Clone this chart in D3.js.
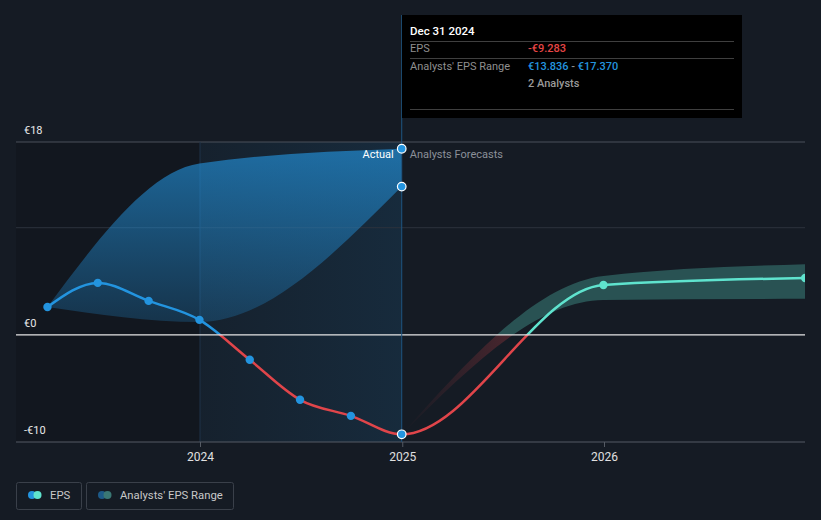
<!DOCTYPE html>
<html><head><meta charset="utf-8">
<script src="https://cdn.jsdelivr.net/npm/d3@7"></script>
<style>
html,body{margin:0;padding:0;background:#151b24;}
svg{display:block;font-family:Roboto,"Noto Sans",sans-serif;}
</style></head>
<body><svg id="c" width="821" height="520"></svg>
<script>
// ---- data ----
const epsDates = ["2023-03-31","2023-06-30","2023-09-30","2023-12-31","2024-03-31","2024-06-30","2024-09-30","2024-12-31"];
const epsValues = [2.6, 4.85, 3.17, 1.4, -2.33, -6.06, -7.56, -9.283];
const pastRangeDates = ["2023-03-31","2023-12-31","2024-12-31"];
const pastRangeLow = [2.6, 1.2, 13.836];
const pastRangeHigh = [2.6, 16.0, 17.37];
const fcDates = ["2024-12-31","2025-12-31","2026-12-31"];
const fcValues = [-9.283, 4.66, 5.3];
const fcLow = [-9.283, 3.26, 3.36];
const fcHigh = [-9.283, 5.5, 6.6];
const yTicks = [18, 0, -10];
const yTickLabels = ["€18", "€0", "-€10"];
const gridValues = [18, 10];
const xTickYears = ["2024", "2025", "2026"];

const P = d3.timeParse("%Y-%m-%d");
const svg = d3.select("#c");
const L = 16, R = 805, T = 142, B = 442;
const x = d3.scaleTime().domain([P("2024-01-01"), P("2026-01-01")]).range([200, 604]);
const y = d3.scaleLinear().domain([-10, 18]).range([B, T]);
const xNow = x(P("2024-12-31"));

const defs = svg.append("defs");
defs.append("clipPath").attr("id","plot").append("rect").attr("x",L).attr("y",0).attr("width",R-L).attr("height",B);
defs.append("clipPath").attr("id","above").append("rect").attr("x",L).attr("y",0).attr("width",R-L).attr("height",y(0));
defs.append("clipPath").attr("id","below").append("rect").attr("x",L).attr("y",y(0)).attr("width",R-L).attr("height",B-y(0)+10);
defs.append("clipPath").attr("id","pastAbove").append("rect").attr("x",L).attr("y",0).attr("width",xNow-L).attr("height",y(0));
defs.append("clipPath").attr("id","futAbove").append("rect").attr("x",xNow).attr("y",0).attr("width",R-xNow).attr("height",y(0));
const gBand = defs.append("linearGradient").attr("id","gBand").attr("gradientUnits","userSpaceOnUse")
  .attr("x1",0).attr("x2",0).attr("y1",T).attr("y2",y(0));
gBand.append("stop").attr("offset","0").attr("stop-color","#2394df").attr("stop-opacity",0.66);
gBand.append("stop").attr("offset","1").attr("stop-color","#2394df").attr("stop-opacity",0.2);
const gHi = defs.append("linearGradient").attr("id","gHi").attr("gradientUnits","userSpaceOnUse")
  .attr("x1",x(P("2024-01-01"))).attr("x2",xNow).attr("y1",0).attr("y2",0);
gHi.append("stop").attr("offset","0").attr("stop-color","#2394df").attr("stop-opacity",0.05);
gHi.append("stop").attr("offset","1").attr("stop-color","#2394df").attr("stop-opacity",0.13);
const gRed = defs.append("linearGradient").attr("id","gRed").attr("gradientUnits","userSpaceOnUse")
  .attr("x1",xNow).attr("x2",x(P("2025-08-20"))).attr("y1",0).attr("y2",0);
gRed.append("stop").attr("offset","0").attr("stop-color","#e0454a").attr("stop-opacity",0);
gRed.append("stop").attr("offset","1").attr("stop-color","#e0454a").attr("stop-opacity",0.3);

// past region shading
svg.append("rect").attr("x",L).attr("y",T).attr("width",x(P("2024-01-01"))-L).attr("height",B-T)
  .attr("fill","#000").attr("opacity",0.12);
svg.append("rect").attr("x",x(P("2024-01-01"))).attr("y",T).attr("width",xNow-x(P("2024-01-01"))).attr("height",B-T)
  .attr("fill","url(#gHi)");

// grid
svg.selectAll("line.grid").data(gridValues).join("line").attr("class","grid")
  .attr("x1",L).attr("x2",R).attr("y1",d=>y(d)).attr("y2",d=>y(d))
  .attr("stroke",(d,i)=>i===0?"#4a505a":"#2c333d").attr("stroke-width",1);
svg.append("line").attr("x1",x(P("2024-01-01"))).attr("x2",x(P("2024-01-01"))).attr("y1",T).attr("y2",B).attr("stroke","#1f3348").attr("stroke-width",1);

const plot = svg.append("g").attr("clip-path","url(#plot)");

// past analyst band
const pr = pastRangeDates.map((d,i)=>({d:P(d),lo:pastRangeLow[i],hi:pastRangeHigh[i]}));
plot.append("path").datum(pr).attr("fill","url(#gBand)")
  .attr("d", d3.area().curve(d3.curveMonotoneX).x(d=>x(d.d)).y0(d=>y(d.lo)).y1(d=>y(d.hi)));

// forecast band
const fr = fcDates.map((d,i)=>({d:P(d),lo:fcLow[i],hi:fcHigh[i],v:fcValues[i]}));
const fArea = d3.area().curve(d3.curveMonotoneX).x(d=>x(d.d)).y0(d=>y(d.lo)).y1(d=>y(d.hi));
plot.append("path").datum(fr).attr("fill","#5fe3ce").attr("fill-opacity",0.28).attr("clip-path","url(#above)").attr("d",fArea);
plot.append("g").attr("clip-path","url(#below)").append("path").datum(fr).attr("fill","url(#gRed)").attr("d",fArea);

// zero line & axis
svg.append("line").attr("x1",L).attr("x2",R).attr("y1",y(0)).attr("y2",y(0)).attr("stroke","#e6e6e6").attr("stroke-width",1.2);
svg.append("line").attr("x1",L).attr("x2",R).attr("y1",B).attr("y2",B).attr("stroke","#555b64").attr("stroke-width",1);

// tooltip connector
svg.append("line").attr("x1",xNow).attr("x2",xNow).attr("y1",15).attr("y2",B)
  .attr("stroke","#1e5580").attr("stroke-width",1);

// EPS line: one continuous curve through actual + forecast values
const ep = epsDates.map((d,i)=>({d:P(d),v:epsValues[i]}));
const all = ep.concat(fr.slice(1).map(d=>({d:d.d,v:d.v})));
const lineA = d3.line().curve(d3.curveMonotoneX).x(d=>x(d.d)).y(d=>y(d.v));
const lineD = lineA(all);
plot.append("g").attr("clip-path","url(#pastAbove)").append("path").attr("fill","none").attr("stroke","#2394df").attr("stroke-width",2.5).attr("d",lineD);
plot.append("g").attr("clip-path","url(#futAbove)").append("path").attr("fill","none").attr("stroke","#5fe3ce").attr("stroke-width",2.5).attr("d",lineD);
plot.append("g").attr("clip-path","url(#below)").append("path").attr("fill","none").attr("stroke","#e0454a").attr("stroke-width",2.5).attr("d",lineD);

// points
plot.selectAll("circle.eps").data(ep.slice(0,-1)).join("circle").attr("class","eps")
  .attr("cx",d=>x(d.d)).attr("cy",d=>y(d.v)).attr("r",4.2).attr("fill","#2394df");
plot.selectAll("circle.fc").data(fr.slice(1)).join("circle").attr("class","fc")
  .attr("cx",d=>x(d.d)).attr("cy",d=>y(d.v)).attr("r",4.2).attr("fill","#5fe3ce");
const last = pr[pr.length-1];
[{v:ep[ep.length-1].v},{v:last.hi},{v:last.lo}].forEach(p=>{
  svg.append("circle").attr("cx",x(last.d)).attr("cy",y(p.v)).attr("r",4.3).attr("fill","#2394df").attr("stroke","#fff").attr("stroke-width",1.2);
});

// Actual / forecasts labels
svg.append("text").attr("x",xNow-8).attr("y",158).attr("text-anchor","end").attr("fill","#ffffff").attr("font-size",11).text("Actual");
svg.append("text").attr("x",xNow+8).attr("y",158).attr("fill","#8b9099").attr("font-size",11).text("Analysts Forecasts");

// y labels
svg.selectAll("text.yl").data(yTicks).join("text").attr("class","yl")
  .attr("x",24).attr("y",d=>y(d)-8).attr("fill","#e8e8e8").attr("font-size",11).text((d,i)=>yTickLabels[i]);

// x axis
const xa = svg.append("g").attr("transform",`translate(0,${B})`)
  .call(d3.axisBottom(x).tickValues(xTickYears.map(s=>P(s+"-01-01"))).tickFormat(d3.timeFormat("%Y")).tickSize(5).tickPadding(5));
xa.select(".domain").remove();
xa.selectAll("line").attr("stroke","#555b64");
xa.selectAll("text").attr("fill","#e0e0e0").attr("font-size",12).attr("font-family","Roboto,sans-serif");

// tooltip
const tt = svg.append("g");
tt.append("rect").attr("x",402).attr("y",15).attr("width",340).attr("height",103).attr("fill","#000");
tt.append("text").attr("x",410).attr("y",35).attr("fill","#fff").attr("font-size",11.5).attr("font-weight",500).text("Dec 31 2024");
[41,58,109].forEach(yy=>tt.append("line").attr("x1",410).attr("x2",734).attr("y1",yy+0.5).attr("y2",yy+0.5).attr("stroke","#3f3f3f"));
tt.append("text").attr("x",410).attr("y",52).attr("fill","#8f8f8f").attr("font-size",11).text("EPS");
tt.append("text").attr("x",528).attr("y",52).attr("fill","#e64545").attr("font-size",11).attr("font-weight",500).text("-€9.283");
tt.append("text").attr("x",410).attr("y",70).attr("fill","#8f8f8f").attr("font-size",11).text("Analysts' EPS Range");
const rt = tt.append("text").attr("x",528).attr("y",70).attr("font-size",11).attr("font-weight",500);
rt.append("tspan").attr("fill","#2394df").text("€13.836");
rt.append("tspan").attr("fill","#8f8f8f").text(" - ");
rt.append("tspan").attr("fill","#2394df").text("€17.370");
tt.append("text").attr("x",528).attr("y",87).attr("fill","#9a9a9a").attr("font-size",11).attr("font-weight",500).text("2 Analysts");

// legend
const lg = svg.append("g");
lg.append("rect").attr("x",16.5).attr("y",482.5).attr("width",65).attr("height",27).attr("rx",2).attr("fill","none").attr("stroke","#3a404a");
lg.append("circle").attr("cx",32).attr("cy",495).attr("r",4).attr("fill","#2394df");
lg.append("circle").attr("cx",37.5).attr("cy",495).attr("r",4).attr("fill","#5fe3ce");
lg.append("text").attr("x",50).attr("y",499).attr("fill","#c8c8c8").attr("font-size",11.3).text("EPS");
lg.append("rect").attr("x",86.5).attr("y",482.5).attr("width",147).attr("height",27).attr("rx",2).attr("fill","none").attr("stroke","#3a404a");
lg.append("circle").attr("cx",102).attr("cy",495).attr("r",4).attr("fill","#1d5a88");
lg.append("circle").attr("cx",107.5).attr("cy",495).attr("r",4).attr("fill","#3a7774");
lg.append("text").attr("x",120).attr("y",499).attr("fill","#c8c8c8").attr("font-size",11.3).text("Analysts' EPS Range");
</script></body></html>
